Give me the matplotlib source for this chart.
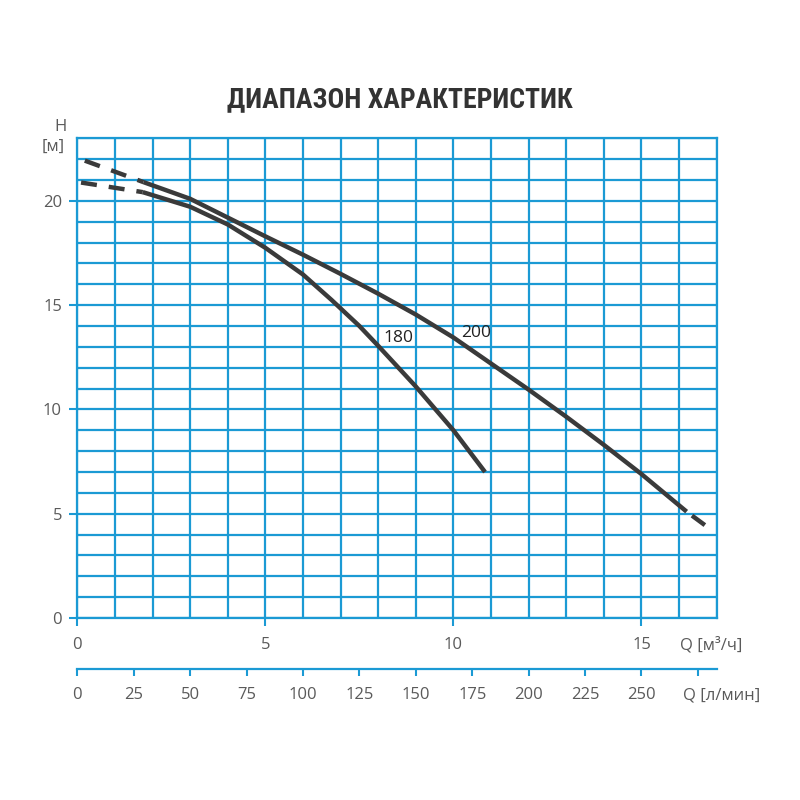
import matplotlib
matplotlib.use("Agg")
import matplotlib.pyplot as plt
from matplotlib.ticker import MultipleLocator, FixedLocator, FuncFormatter

# ---- data (Q in m3/h, H in m) ----
q200_dash_start = [0.2, 1.76]
h200_dash_start = [21.93, 20.9]
q200 = [1.76, 3.0, 4.0, 5.0, 6.0, 7.0, 8.0, 9.0, 10.0, 11.0, 12.0, 13.0, 14.0, 15.0, 16.2]
h200 = [20.9, 20.1, 19.2, 18.3, 17.42, 16.5, 15.55, 14.55, 13.45, 12.2, 10.95, 9.65, 8.3, 6.9, 5.1]
q200_dash_end = [16.2, 16.74]
h200_dash_end = [5.1, 4.38]

q180_dash_start = [0.1, 1.74]
h180_dash_start = [20.88, 20.42]
q180 = [1.74, 3.0, 4.0, 5.0, 6.0, 6.76, 7.5, 8.0, 9.0, 10.0, 10.84]
h180 = [20.42, 19.72, 18.87, 17.75, 16.47, 15.25, 14.0, 13.05, 11.1, 9.0, 7.0]

curve_labels = ["180", "200"]
label_pos_q = [8.54, 10.6]
label_pos_h = [13.41, 13.65]

y_ticks = [0, 5, 10, 15, 20]
x_ticks = [0, 5, 10, 15]
lmin_ticks = [0, 25, 50, 75, 100, 125, 150, 175, 200, 225, 250, 275]
lmin_labelled_max = 250

title = "ДИАПАЗОН ХАРАКТЕРИСТИК"

# ---- styles ----
BLUE = "#1b9ad4"
CURVE = "#3a3a3a"
TXT = "#5a5a5a"
FONT = ["Open Sans", "DejaVu Sans"]

fig = plt.figure(figsize=(8, 8), dpi=100)
ax = fig.add_axes([0.0966, 0.2275, 0.7993, 0.5996])

ax.set_xlim(0, 17)
ax.set_ylim(0, 23)
ax.xaxis.set_major_locator(FixedLocator(x_ticks))
ax.xaxis.set_minor_locator(MultipleLocator(1))
ax.yaxis.set_major_locator(FixedLocator(y_ticks))
ax.yaxis.set_minor_locator(MultipleLocator(1))
ax.grid(True, which="both", color=BLUE, linewidth=1.6)
ax.set_axisbelow(True)
for s in ax.spines.values():
    s.set_color(BLUE)
    s.set_linewidth(1.6)
ax.tick_params(which="minor", length=0)
ax.tick_params(axis="x", which="major", direction="out", length=5.5, width=1.5,
               color=BLUE, labelcolor=TXT, labelsize=12, pad=8)
ax.tick_params(axis="y", which="major", direction="out", length=6, width=1.5,
               color=BLUE, labelcolor=TXT, labelsize=12, pad=5)
for lab in ax.get_xticklabels() + ax.get_yticklabels():
    lab.set_family(FONT)

lw = 3.2
ax.plot(q200, h200, color=CURVE, lw=lw, solid_capstyle="butt", zorder=3)
ax.plot(q180, h180, color=CURVE, lw=lw, solid_capstyle="butt", zorder=3)
ax.plot(q200_dash_start, h200_dash_start, color=CURVE, lw=lw,
        ls=(0, (3.6, 2.7)), dash_capstyle="butt", zorder=3)
ax.plot(q180_dash_start, h180_dash_start, color=CURVE, lw=lw,
        ls=(0, (3.6, 2.7)), dash_capstyle="butt", zorder=3)
ax.plot(q200_dash_end, h200_dash_end, color=CURVE, lw=lw,
        ls=(3.6, (3.6, 1.5)), dash_capstyle="butt", zorder=3)

for t, xq, yh in zip(curve_labels, label_pos_q, label_pos_h):
    ax.text(xq, yh, t, ha="center", va="center", fontsize=12.5, color="#222222",
            family=FONT, zorder=4)

sec = ax.secondary_xaxis(-0.1063, functions=(lambda x: x * 1000 / 60,
                                              lambda x: x * 60 / 1000))
sec.xaxis.set_major_locator(FixedLocator(lmin_ticks))
sec.xaxis.set_major_formatter(FuncFormatter(
    lambda v, p: f"{v:.0f}" if v <= lmin_labelled_max + 0.5 else ""))
sec.spines["bottom"].set_color(BLUE)
sec.spines["bottom"].set_linewidth(1.6)
sec.tick_params(axis="x", direction="out", length=5, width=1.5, color=BLUE,
                labelcolor=TXT, labelsize=12, pad=8)
for lab in sec.get_xticklabels():
    lab.set_family(FONT)

fig.text(0.5, 0.875, title, ha="center", va="center", fontsize=20,
         fontweight="bold", color="#333333",
         family=["Roboto Condensed", "Roboto", "DejaVu Sans"])
fig.text(0.075, 0.841, "H", ha="center", va="center", fontsize=12, color=TXT, family=FONT)
fig.text(0.066, 0.816, "[м]", ha="center", va="center", fontsize=12, color=TXT, family=FONT)
fig.text(0.85, 0.194, "Q [м³/ч]", ha="left", va="center", fontsize=12, color=TXT, family=FONT)
fig.text(0.854, 0.131, "Q [л/мин]", ha="left", va="center", fontsize=12, color=TXT, family=FONT)

fig.savefig("out.png", dpi=100, facecolor="white")
